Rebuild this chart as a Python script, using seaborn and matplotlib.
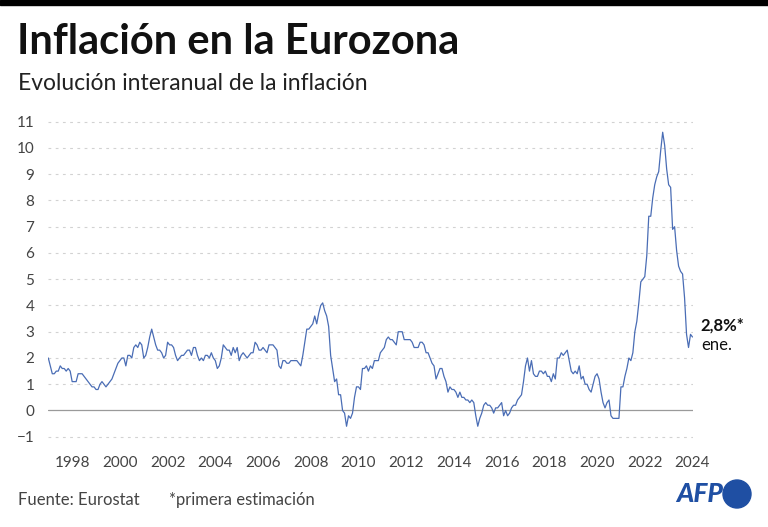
import numpy as np
import pandas as pd
import matplotlib
matplotlib.use("Agg")
import matplotlib.pyplot as plt
import seaborn as sns
from matplotlib.patches import Rectangle, Ellipse

# ---- data: euro area annual inflation (%), monthly, Jan 1997 - Jan 2024 ----
start_year = 1997
infl_1997 = [2.0, 1.7, 1.4, 1.4, 1.5, 1.5, 1.7, 1.6, 1.6, 1.5, 1.6, 1.5]
infl_1998 = [1.1, 1.1, 1.1, 1.4, 1.4, 1.4, 1.3, 1.2, 1.1, 1.0, 0.9, 0.9]
infl_1999 = [0.8, 0.8, 1.0, 1.1, 1.0, 0.9, 1.0, 1.1, 1.2, 1.4, 1.6, 1.8]
infl_2000 = [1.9, 2.0, 2.0, 1.7, 2.1, 2.1, 2.0, 2.4, 2.5, 2.4, 2.6, 2.5]
infl_2001 = [2.0, 2.1, 2.4, 2.8, 3.1, 2.8, 2.5, 2.3, 2.3, 2.2, 2.0, 2.1]
infl_2002 = [2.6, 2.5, 2.5, 2.4, 2.1, 1.9, 2.0, 2.1, 2.1, 2.2, 2.3, 2.3]
infl_2003 = [2.1, 2.4, 2.4, 2.1, 1.9, 2.0, 1.9, 2.1, 2.1, 2.0, 2.2, 2.0]
infl_2004 = [1.9, 1.6, 1.7, 2.0, 2.5, 2.4, 2.3, 2.3, 2.1, 2.4, 2.2, 2.4]
infl_2005 = [1.9, 2.1, 2.2, 2.1, 2.0, 2.1, 2.2, 2.2, 2.6, 2.5, 2.3, 2.3]
infl_2006 = [2.4, 2.3, 2.2, 2.5, 2.5, 2.5, 2.4, 2.3, 1.7, 1.6, 1.9, 1.9]
infl_2007 = [1.8, 1.8, 1.9, 1.9, 1.9, 1.9, 1.8, 1.7, 2.1, 2.6, 3.1, 3.1]
infl_2008 = [3.2, 3.3, 3.6, 3.3, 3.7, 4.0, 4.1, 3.8, 3.6, 3.2, 2.1, 1.6]
infl_2009 = [1.1, 1.2, 0.6, 0.6, 0.0, -0.1, -0.6, -0.2, -0.3, -0.1, 0.5, 0.9]
infl_2010 = [0.9, 0.8, 1.6, 1.6, 1.7, 1.5, 1.7, 1.6, 1.9, 1.9, 1.9, 2.2]
infl_2011 = [2.3, 2.4, 2.7, 2.8, 2.7, 2.7, 2.6, 2.5, 3.0, 3.0, 3.0, 2.7]
infl_2012 = [2.7, 2.7, 2.7, 2.6, 2.4, 2.4, 2.4, 2.6, 2.6, 2.5, 2.2, 2.2]
infl_2013 = [2.0, 1.8, 1.7, 1.2, 1.4, 1.6, 1.6, 1.3, 1.1, 0.7, 0.9, 0.8]
infl_2014 = [0.8, 0.7, 0.5, 0.7, 0.5, 0.5, 0.4, 0.4, 0.3, 0.4, 0.3, -0.2]
infl_2015 = [-0.6, -0.3, -0.1, 0.2, 0.3, 0.2, 0.2, 0.1, -0.1, 0.1, 0.1, 0.2]
infl_2016 = [0.3, -0.2, 0.0, -0.2, -0.1, 0.1, 0.2, 0.2, 0.4, 0.5, 0.6, 1.1]
infl_2017 = [1.7, 2.0, 1.5, 1.9, 1.4, 1.3, 1.3, 1.5, 1.5, 1.4, 1.5, 1.3]
infl_2018 = [1.3, 1.1, 1.4, 1.2, 2.0, 2.0, 2.2, 2.1, 2.2, 2.3, 1.9, 1.5]
infl_2019 = [1.4, 1.5, 1.4, 1.7, 1.2, 1.3, 1.0, 1.0, 0.8, 0.7, 1.0, 1.3]
infl_2020 = [1.4, 1.2, 0.7, 0.3, 0.1, 0.3, 0.4, -0.2, -0.3, -0.3, -0.3, -0.3]
infl_2021 = [0.9, 0.9, 1.3, 1.6, 2.0, 1.9, 2.2, 3.0, 3.4, 4.1, 4.9, 5.0]
infl_2022 = [5.1, 5.9, 7.4, 7.4, 8.1, 8.6, 8.9, 9.1, 9.9, 10.6, 10.1, 9.2]
infl_2023 = [8.6, 8.5, 6.9, 7.0, 6.1, 5.5, 5.3, 5.2, 4.3, 2.9, 2.4, 2.9]
infl_2024 = [2.8]

x_ticks = list(range(1998, 2025, 2))
y_ticks = list(range(-1, 12))
last_label = "2,8%*"
last_month = "ene."

yearly = [infl_1997, infl_1998, infl_1999, infl_2000, infl_2001, infl_2002,
          infl_2003, infl_2004, infl_2005, infl_2006, infl_2007, infl_2008,
          infl_2009, infl_2010, infl_2011, infl_2012, infl_2013, infl_2014,
          infl_2015, infl_2016, infl_2017, infl_2018, infl_2019, infl_2020,
          infl_2021, infl_2022, infl_2023, infl_2024]

rows = []
for k, vals in enumerate(yearly):
    for m, v in enumerate(vals):
        rows.append({"t": start_year + k + m / 12.0, "v": v})
df = pd.DataFrame(rows)

# ---- styling ----
sns.set_theme(style="white")
plt.rcParams["font.family"] = ["Lato", "DejaVu Sans"]

fig = plt.figure(figsize=(7.68, 5.27), dpi=100)
ax = fig.add_axes([0.0629, 0.1588, 0.9017 - 0.0629, 0.7715 - 0.1588])

line_color = "#4a6db5"
sns.lineplot(data=df, x="t", y="v", ax=ax, color=line_color, linewidth=0.9)

ax.set_xlim(df["t"].iloc[0], df["t"].iloc[-1])
ax.set_ylim(-1.25, 11.05)
ax.set_yticks(y_ticks)
ax.set_xticks(x_ticks)
ax.set_xticklabels([str(y) for y in x_ticks])
ax.set_xlabel("")
ax.set_ylabel("")

for s in ax.spines.values():
    s.set_visible(False)

for yv in y_ticks:
    if yv == 0:
        continue
    ax.axhline(yv, color="#d2d2d2", linewidth=0.8, linestyle=(0, (2.5, 4)), zorder=0)
ax.axhline(0, color="#9a9a9a", linewidth=0.9, zorder=1)

ax.tick_params(axis="both", length=0, labelsize=11, labelcolor="#444444")
ax.tick_params(axis="y", pad=10)
ax.tick_params(axis="x", pad=9)
for lab in ax.get_yticklabels():
    lab.set_horizontalalignment("right")

# end label
ax.annotate(last_label, xy=(df["t"].iloc[-1], df["v"].iloc[-1]), xytext=(6, 8),
            textcoords="offset points", ha="left", va="center",
            fontsize=12, fontweight="bold", color="#111111", annotation_clip=False)
ax.annotate(last_month, xy=(df["t"].iloc[-1], df["v"].iloc[-1]), xytext=(6, -6),
            textcoords="offset points", ha="left", va="center",
            fontsize=12, color="#111111", annotation_clip=False)

# titles
fig.patches.append(Rectangle((0, 1 - 5 / 527), 1, 5 / 527, transform=fig.transFigure,
                             color="black", zorder=10))
fig.text(17 / 768, 1 - 42 / 527, "Inflación en la Eurozona", fontsize=30,
         fontweight="bold", color="#111111", ha="left", va="center")
fig.text(18 / 768, 1 - 83 / 527, "Evolución interanual de la inflación", fontsize=16.5,
         color="#222222", ha="left", va="center")

# footer
fig.text(18 / 768, 1 - 500 / 527, "Fuente: Eurostat", fontsize=12,
         color="#444444", ha="left", va="center")
fig.text(169 / 768, 1 - 500 / 527, "*primera estimación", fontsize=12,
         color="#444444", ha="left", va="center")

# AFP logo
afp_blue = "#1f4fa3"
fig.text(723 / 768, 1 - 494 / 527, "AFP", fontsize=19, fontweight="black",
         fontstyle="italic", color=afp_blue, ha="right", va="center")
fig.patches.append(Ellipse((737 / 768, 1 - 494 / 527), 28 / 768, 28 / 527,
                           transform=fig.transFigure, color=afp_blue, zorder=10))

fig.savefig("out.png", dpi=100)
